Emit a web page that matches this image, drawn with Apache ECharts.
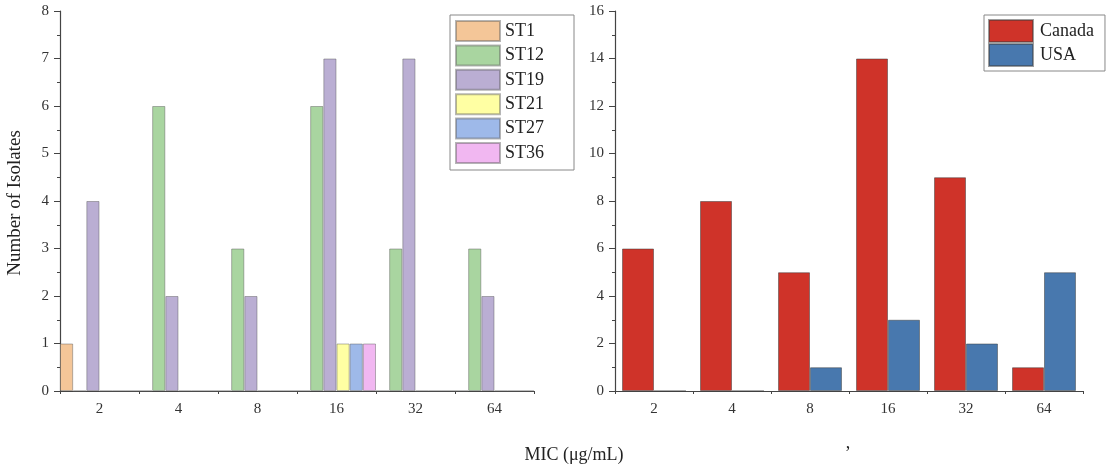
<!DOCTYPE html>
<html><head><meta charset="utf-8">
<script src="https://cdn.jsdelivr.net/npm/echarts@6/dist/echarts.min.js"></script>
<style>html,body{margin:0;padding:0;background:#fff}#c{width:1108px;height:469px}</style>
</head><body><div id="c"></div>
<script>
const categories = ['2','4','8','16','32','64'];
const stNames = ['ST1','ST12','ST19','ST21','ST27','ST36'];
const st1  = [1,0,0,0,0,0];
const st12 = [0,6,3,6,3,3];
const st19 = [4,2,2,7,7,2];
const st21 = [0,0,0,1,0,0];
const st27 = [0,0,0,1,0,0];
const st36 = [0,0,0,1,0,0];
const canada = [6,8,5,14,9,1];
const usa    = [0,0,1,3,2,5];
const leftTicks = [0,1,2,3,4,5,6,7,8];
const rightTicks = [0,2,4,6,8,10,12,14,16];

const stColors = ['#F4C698','#A9D5A0','#BAAED3','#FFFFA3','#9EB9E9','#F1B7F1'];
const FONT = "'Liberation Serif','Times New Roman',serif";
const axisCol = '#444';
const lbl = {fontFamily: FONT, fontSize: 15, color: '#333'};

const stData = [st1, st12, st19, st21, st27, st36];
const series = stData.map((d,i)=>({
  name: stNames[i], type:'bar', xAxisIndex:0, yAxisIndex:0, data:d,
  barGap:'0%', barCategoryGap:'0%',
  itemStyle:{color:stColors[i], borderColor:'rgba(90,90,90,0.45)', borderWidth:1}
}));
series.push({name:'Canada', type:'bar', xAxisIndex:2, yAxisIndex:1, data:canada,
  barGap:'0%', barCategoryGap:'18%',
  itemStyle:{color:'#CF3329', borderColor:'rgba(60,60,60,0.5)', borderWidth:1}});
series.push({name:'USA', type:'bar', xAxisIndex:2, yAxisIndex:1, data:usa,
  barGap:'0%', barCategoryGap:'18%',
  itemStyle:{color:'#4878AE', borderColor:'rgba(60,60,60,0.5)', borderWidth:1}});

function catAxis(grid){
  return {type:'category', gridIndex:grid, data:categories,
    axisLine:{lineStyle:{color:axisCol, width:1.2}},
    axisTick:{alignWithLabel:true, length:6, lineStyle:{color:axisCol}},
    axisLabel:Object.assign({margin:11}, lbl), splitLine:{show:false}};
}
function bndAxis(grid){
  return {type:'category', gridIndex:grid, data:categories, position:'bottom',
    axisLine:{show:false}, axisLabel:{show:false},
    axisTick:{show:true, length:3, lineStyle:{color:axisCol}}, splitLine:{show:false}};
}
function valAxis(grid, max, interval){
  return {type:'value', gridIndex:grid, min:0, max:max, interval:interval,
    axisLine:{show:true, lineStyle:{color:axisCol, width:1.2}},
    axisTick:{show:true, length:6, lineStyle:{color:axisCol}},
    minorTick:{show:true, splitNumber:2, length:3, lineStyle:{color:axisCol}},
    axisLabel:Object.assign({margin:11}, lbl), splitLine:{show:false}};
}

const chart = echarts.init(document.getElementById('c'));
chart.setOption({
  animation:false,
  textStyle:{fontFamily:FONT},
  grid:[{left:60, top:11, width:474, height:380},
        {left:615, top:11, width:468, height:380}],
  xAxis:[catAxis(0), bndAxis(0), catAxis(1), bndAxis(1)],
  yAxis:[valAxis(0, leftTicks[leftTicks.length-1], 1), valAxis(1, rightTicks[rightTicks.length-1], 2)],
  legend:[
    {data:stNames, orient:'vertical', left:450, top:15, itemWidth:44, itemHeight:20, itemGap:2.4,
     padding:[5,30,6,5], borderColor:'#888', borderWidth:1, icon:'rect',
     textStyle:{fontFamily:FONT, fontSize:18, color:'#222', lineHeight:20}},
    {data:['Canada','USA'], orient:'vertical', left:984, top:15, itemWidth:44, itemHeight:22, itemGap:0,
     padding:[4,11,4,4], borderColor:'#888', borderWidth:1, icon:'rect',
     textStyle:{fontFamily:FONT, fontSize:18, color:'#222', lineHeight:22, padding:[0,0,0,2]}}
  ],
  graphic:[
    {type:'text', x:15, y:203, rotation:Math.PI/2,
     style:{text:'Number of Isolates', fontFamily:FONT, fontSize:19, fill:'#222',
            align:'center', verticalAlign:'middle'}},
    {type:'text', x:574, y:455,
     style:{text:'MIC (μg/mL)', fontFamily:FONT, fontSize:18, fill:'#222', align:'center', verticalAlign:'middle'}},
    {type:'text', x:848, y:443,
     style:{text:',', fontFamily:FONT, fontSize:18, fill:'#222', align:'center', verticalAlign:'middle'}}
  ],
  series:series
});
</script></body></html>
